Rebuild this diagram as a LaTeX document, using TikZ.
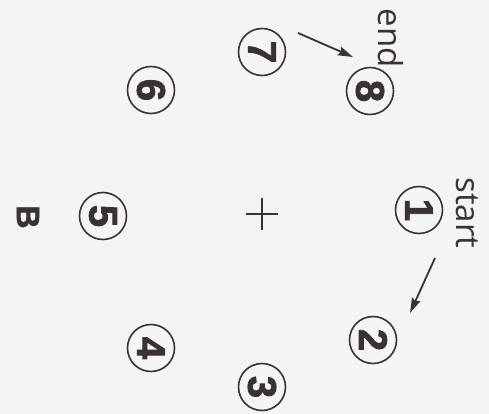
\documentclass[tikz,border=0pt]{standalone}
\usepackage{fontspec}
\setmainfont{Open Sans}
\newfontfamily\digitfont[FakeBold=2]{Liberation Sans}
\usetikzlibrary{arrows.meta}
\definecolor{ink}{RGB}{58,48,56}
\definecolor{bg}{RGB}{244,244,244}
\tikzset{
  num/.style={circle, draw=ink, line width=1.6pt, minimum size=47pt, inner sep=0pt,
    text=ink, rotate=-90, font=\digitfont\bfseries\fontsize{40}{40}\selectfont},
  lbl/.style={text=ink, rotate=-90, inner sep=0pt, font=\fontsize{33}{33}\selectfont},
  arr/.style={draw=ink, line width=1.8pt, -{Stealth[length=15pt,width=9pt,inset=2pt]}}
}
\begin{document}
\begin{tikzpicture}[x=1pt,y=-1pt]
\path[fill=bg] (0,0) rectangle (489,414);
\useasboundingbox (0,0) rectangle (489,414);
\node[num] (n1) at (419,210) {1};
\node[num] (n2) at (373,340) {2};
\node[num] (n3) at (262,387) {3};
\node[num] (n4) at (151,348) {4};
\node[num] (n5) at (103,216) {5};
\node[num] (n6) at (151,90) {6};
\node[num] (n7) at (262,52) {7};
\node[num] (n8) at (370,91) {8};
\coordinate (plus) at (262,214);
\draw[ink, line width=2pt] ([xshift=-16pt]plus) -- ([xshift=16pt]plus)
  ([yshift=-16pt]plus) -- ([yshift=16pt]plus);
\node[text=ink, rotate=-90, inner sep=0pt, font=\digitfont\bfseries\fontsize{32}{32}\selectfont] (B) at (28,217) {B};
\node[lbl] (start) at (467,213) {start};
\node[lbl] (end) at (391,38) {end};
\coordinate (a1s) at (435,258);
\coordinate (a1e) at (410,313);
\coordinate (a2s) at (298,33);
\coordinate (a2e) at (353,57);
\draw[arr] (a1s) -- (a1e);
\draw[arr] (a2s) -- (a2e);
\end{tikzpicture}
\end{document}
